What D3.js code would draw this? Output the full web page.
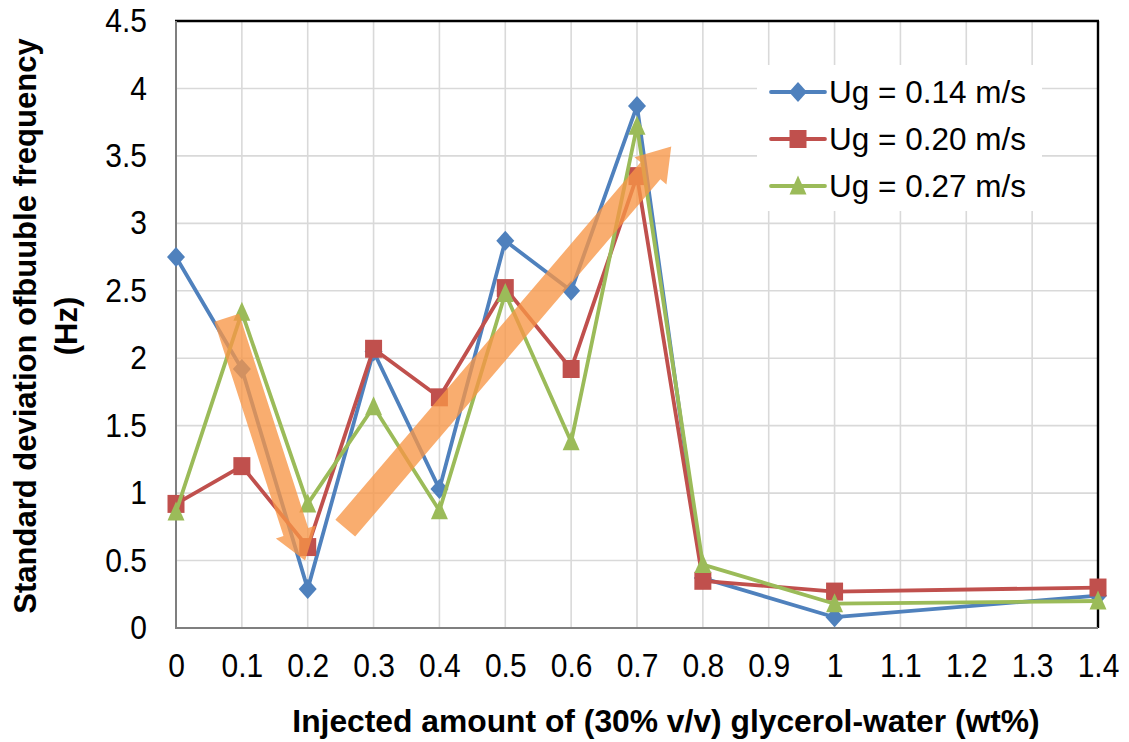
<!DOCTYPE html>
<html>
<head>
<meta charset="utf-8">
<script src="https://cdn.jsdelivr.net/npm/d3@7"></script>
<style>
  html, body { margin: 0; padding: 0; background: #fff; }
  svg { display: block; font-family: "Liberation Sans", Arial, sans-serif; }
</style>
</head>
<body>
<svg id="chart" width="1129" height="742"></svg>
<script>
// Category axis labels (evenly spaced, as in a category line chart)
const categories = ["0","0.1","0.2","0.3","0.4","0.5","0.6","0.7","0.8","0.9","1","1.1","1.2","1.3","1.4"];
// Injected amounts where measurements exist
const measured = ["0","0.1","0.2","0.3","0.4","0.5","0.6","0.7","0.8","1","1.4"];
// Standard deviation of bubble frequency (Hz) per gas velocity
const ug014 = [2.75, 1.92, 0.29, 2.05, 1.03, 2.87, 2.50, 3.87, 0.37, 0.08, 0.24];
const ug020 = [0.92, 1.20, 0.60, 2.07, 1.71, 2.52, 1.92, 3.35, 0.35, 0.27, 0.30];
const ug027 = [0.86, 2.34, 0.92, 1.64, 0.87, 2.48, 1.38, 3.72, 0.47, 0.18, 0.20];
const seriesNames = ["Ug = 0.14 m/s", "Ug = 0.20 m/s", "Ug = 0.27 m/s"];
const yTicks = [0, 0.5, 1, 1.5, 2, 2.5, 3, 3.5, 4, 4.5];
// Trend arrows: [category position, value] for tail and tip
const trendDown = [[0.77, 2.30], [1.96, 0.50]];
const trendUp = [[2.57, 0.74], [7.52, 3.57]];

const svg = d3.select("#chart");
const plotL = 176, plotR = 1098, plotT = 21, plotB = 628;

const x = d3.scalePoint().domain(categories).range([plotL, plotR]);
const y = d3.scaleLinear().domain([0, 4.5]).range([plotB, plotT]);
// continuous position along the category axis (for the arrows)
const xi = d3.scaleLinear().domain([0, categories.length - 1]).range([plotL, plotR]);

const colors = ["#4F81BD", "#C0504D", "#9BBB59"];
const shapes = ["diamond", "square", "triangle"];
const seriesData = [ug014, ug020, ug027];

// gridlines
const grid = svg.append("g").attr("stroke", "#d9d9d9").attr("stroke-width", 1.6);
grid.selectAll("line.v").data(categories).join("line").attr("class", "v")
  .attr("x1", d => x(d)).attr("x2", d => x(d)).attr("y1", plotT).attr("y2", plotB);
grid.selectAll("line.h").data(yTicks).join("line").attr("class", "h")
  .attr("x1", plotL).attr("x2", plotR).attr("y1", d => y(d)).attr("y2", d => y(d));

// frame
svg.append("line").attr("x1", plotL - 1).attr("x2", plotR + 1).attr("y1", plotT).attr("y2", plotT)
  .attr("stroke", "#000").attr("stroke-width", 2.4);
svg.append("line").attr("x1", plotR).attr("x2", plotR).attr("y1", plotT).attr("y2", plotB)
  .attr("stroke", "#000").attr("stroke-width", 2.4);
svg.append("line").attr("x1", plotL).attr("x2", plotL).attr("y1", plotT).attr("y2", plotB + 1)
  .attr("stroke", "#7f7f7f").attr("stroke-width", 2);
svg.append("line").attr("x1", plotL - 1).attr("x2", plotR).attr("y1", plotB).attr("y2", plotB)
  .attr("stroke", "#7f7f7f").attr("stroke-width", 2);

// tick labels are drawn slightly taller than the font's natural proportions
function stretchText(sel, k) {
  sel.each(function () {
    const t = d3.select(this);
    const tx = +t.attr("x") || 0, ty = +t.attr("y") || 0;
    t.attr("x", 0).attr("y", 0).attr("transform", `translate(${tx},${ty}) scale(1,${k})`);
  });
}

// axes (labels only)
const yAxis = d3.axisLeft(y).tickValues(yTicks).tickSize(0).tickPadding(29).tickFormat(d3.format("~g"));
const gy = svg.append("g").attr("transform", `translate(${plotL},0)`).call(yAxis);
gy.select(".domain").remove();
gy.selectAll("text").attr("font-size", 30).attr("fill", "#000")
  .attr("font-family", "Liberation Sans, Arial, sans-serif").call(stretchText, 1.1);

const xAxis = d3.axisBottom(x).tickSize(0).tickPadding(26);
const gx = svg.append("g").attr("transform", `translate(0,${plotB})`).call(xAxis);
gx.select(".domain").remove();
gx.selectAll("text").attr("font-size", 30).attr("fill", "#000")
  .attr("font-family", "Liberation Sans, Arial, sans-serif").call(stretchText, 1.1);

// marker outlines, slightly taller than wide
function markerPath(shape) {
  if (shape === "diamond") return "M0,-10L9,0L0,10L-9,0Z";
  if (shape === "square") return "M-8.5,-9L8.5,-9L8.5,9L-8.5,9Z";
  return "M0,-10.5L8.5,8.5L-8.5,8.5Z";
}

// series lines and markers
const line = d3.line().x((d, i) => x(measured[i])).y(d => y(d));
seriesData.forEach((vals, s) => {
  const g = svg.append("g");
  g.append("path").datum(vals).attr("d", line)
    .attr("fill", "none").attr("stroke", colors[s]).attr("stroke-width", 3.8)
    .attr("stroke-linejoin", "round");
  g.selectAll("path.m").data(vals).join("path")
    .attr("class", "m")
    .attr("transform", (d, i) => `translate(${x(measured[i])},${y(d)})`)
    .attr("d", markerPath(shapes[s]))
    .attr("fill", colors[s]);
});

// trend arrows (semi-transparent)
function arrow(pts, shaft, headW, headL) {
  const [x0, y0] = [xi(pts[0][0]), y(pts[0][1])];
  const [x1, y1] = [xi(pts[1][0]), y(pts[1][1])];
  const dx = x1 - x0, dy = y1 - y0, len = Math.hypot(dx, dy);
  const ux = dx / len, uy = dy / len, px = -uy, py = ux;
  const bx = x1 - ux * headL, by = y1 - uy * headL;
  const p = [
    [x0 + px * shaft / 2, y0 + py * shaft / 2],
    [bx + px * shaft / 2, by + py * shaft / 2],
    [bx + px * headW / 2, by + py * headW / 2],
    [x1, y1],
    [bx - px * headW / 2, by - py * headW / 2],
    [bx - px * shaft / 2, by - py * shaft / 2],
    [x0 - px * shaft / 2, y0 - py * shaft / 2]
  ];
  svg.append("path").attr("d", "M" + p.map(q => q.join(",")).join("L") + "Z")
    .attr("fill", "#F79646").attr("fill-opacity", 0.78);
}
arrow(trendDown, 26, 42, 30);
arrow(trendUp, 26, 42, 32);

// legend
const lg = svg.append("g");
lg.append("rect").attr("x", 757).attr("y", 65).attr("width", 285).attr("height", 146).attr("fill", "#fff");
seriesNames.forEach((name, s) => {
  const cy = 92 + s * 47;
  lg.append("line").attr("x1", 771).attr("x2", 825).attr("y1", cy).attr("y2", cy)
    .attr("stroke", colors[s]).attr("stroke-width", 3.8).attr("stroke-linecap", "round");
  lg.append("path").attr("transform", `translate(798,${cy})`)
    .attr("d", markerPath(shapes[s])).attr("fill", colors[s]);
  lg.append("text").attr("x", 829).attr("y", cy + 11).attr("font-size", 31.5).attr("fill", "#000").text(name);
});

// axis titles
svg.append("text").attr("x", 666).attr("y", 732).attr("text-anchor", "middle")
  .attr("font-size", 31.8).attr("font-weight", "bold").attr("fill", "#000")
  .text("Injected amount of (30% v/v) glycerol-water (wt%)");
const yt = svg.append("text").attr("transform", "translate(0,326) rotate(-90)")
  .attr("text-anchor", "middle").attr("font-size", 31).attr("font-weight", "bold").attr("fill", "#000");
yt.append("tspan").attr("x", 0).attr("y", 36).text("Standard deviation ofbuuble frequency");
yt.append("tspan").attr("x", 0).attr("y", 77).text("(Hz)");
</script>
</body>
</html>
